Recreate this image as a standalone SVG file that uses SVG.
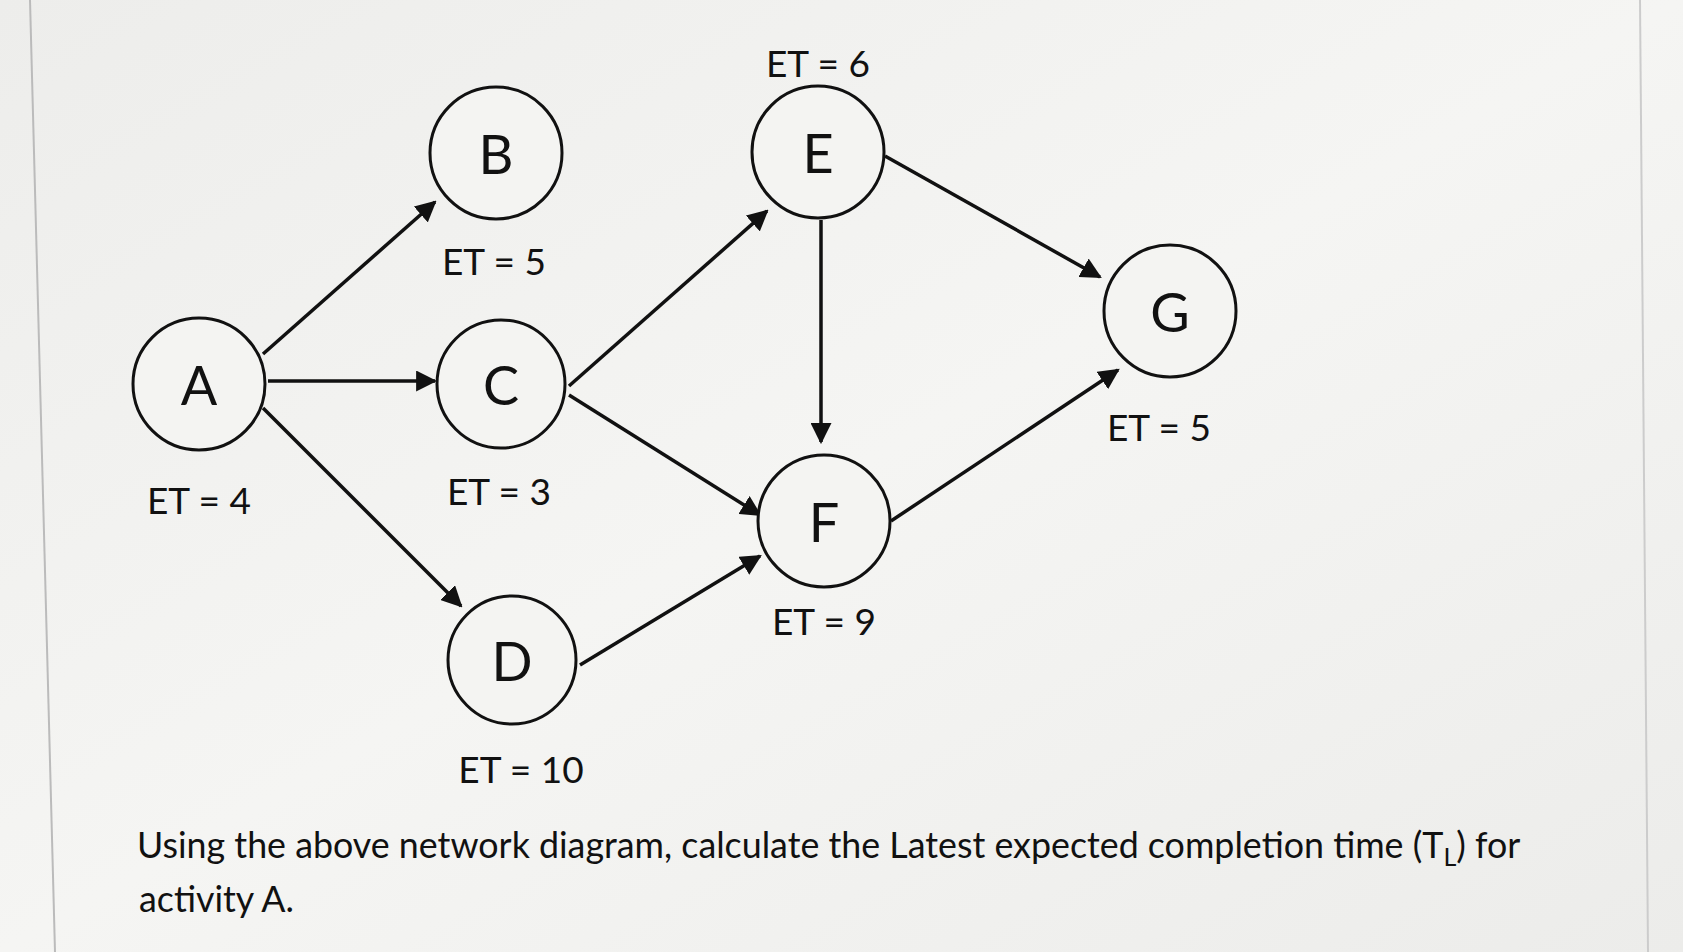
<svg xmlns="http://www.w3.org/2000/svg" width="1683" height="952" viewBox="0 0 1683 952">
<defs>
<style>
.n{fill:#f4f4f2;stroke:#111;stroke-width:3}
.l{font-family:Lato,"Open Sans",sans-serif;font-size:54px;fill:#111;text-anchor:middle;dominant-baseline:central}
.t{font-family:Lato,"Open Sans",sans-serif;font-size:37px;fill:#111;text-anchor:middle;dominant-baseline:central}
.q{font-family:Lato,"Open Sans",sans-serif;font-size:35.8px;fill:#111}
.c{stroke:#111;stroke-width:3.5;fill:none;marker-end:url(#ah)}
</style>
<marker id="ah" viewBox="0 0 10 10" refX="9" refY="5" markerWidth="6" markerHeight="6" orient="auto" markerUnits="strokeWidth"><path d="M0,0L10,5L0,10z" fill="#111"/></marker>
<linearGradient id="bg" x1="0" y1="0" x2="1" y2="1"><stop offset="0" stop-color="#ededeb"/><stop offset="0.5" stop-color="#f5f5f3"/><stop offset="1" stop-color="#ececea"/></linearGradient>
</defs>
<rect width="1683" height="952" fill="url(#bg)"/>
<line x1="30" y1="0" x2="55" y2="952" stroke="#bbb" stroke-width="2"/>
<line x1="1640" y1="0" x2="1648" y2="952" stroke="#ccc" stroke-width="2"/>
<g id="connectors">
<line class="c" x1="263" y1="354" x2="435" y2="202"/>
<line class="c" x1="268" y1="381" x2="435" y2="381"/>
<line class="c" x1="263" y1="408" x2="461" y2="606"/>
<line class="c" x1="569" y1="386" x2="767" y2="211"/>
<line class="c" x1="569" y1="395" x2="760" y2="515"/>
<line class="c" x1="580" y1="665" x2="760" y2="556"/>
<line class="c" x1="821" y1="220" x2="821" y2="442"/>
<line class="c" x1="885" y1="156" x2="1100" y2="277"/>
<line class="c" x1="891" y1="521" x2="1118" y2="370"/>
</g>
<g id="A"><circle class="n" cx="199" cy="384" r="66"/><text class="l" x="199" y="384">A</text><text class="t" x="199" y="499">ET = 4</text></g>
<g id="B"><circle class="n" cx="496" cy="153" r="66"/><text class="l" x="496" y="153">B</text><text class="t" x="494" y="260">ET = 5</text></g>
<g id="C"><circle class="n" cx="501" cy="384" r="64"/><text class="l" x="501" y="384">C</text><text class="t" x="499" y="490">ET = 3</text></g>
<g id="D"><circle class="n" cx="512" cy="660" r="64"/><text class="l" x="512" y="660">D</text><text class="t" x="521" y="768">ET = 10</text></g>
<g id="E"><circle class="n" cx="818" cy="152" r="66"/><text class="l" x="818" y="152">E</text><text class="t" x="818" y="62">ET = 6</text></g>
<g id="F"><circle class="n" cx="824" cy="521" r="66"/><text class="l" x="824" y="521">F</text><text class="t" x="824" y="620">ET = 9</text></g>
<g id="G"><circle class="n" cx="1170" cy="311" r="66"/><text class="l" x="1170" y="311">G</text><text class="t" x="1159" y="426">ET = 5</text></g>
<text class="q" x="137" y="858">Using the above network diagram, calculate the Latest expected completion time (T<tspan font-size="25" dy="8">L</tspan><tspan dy="-8">) for</tspan></text>
<text class="q" x="139" y="912">activity A.</text>
</svg>
